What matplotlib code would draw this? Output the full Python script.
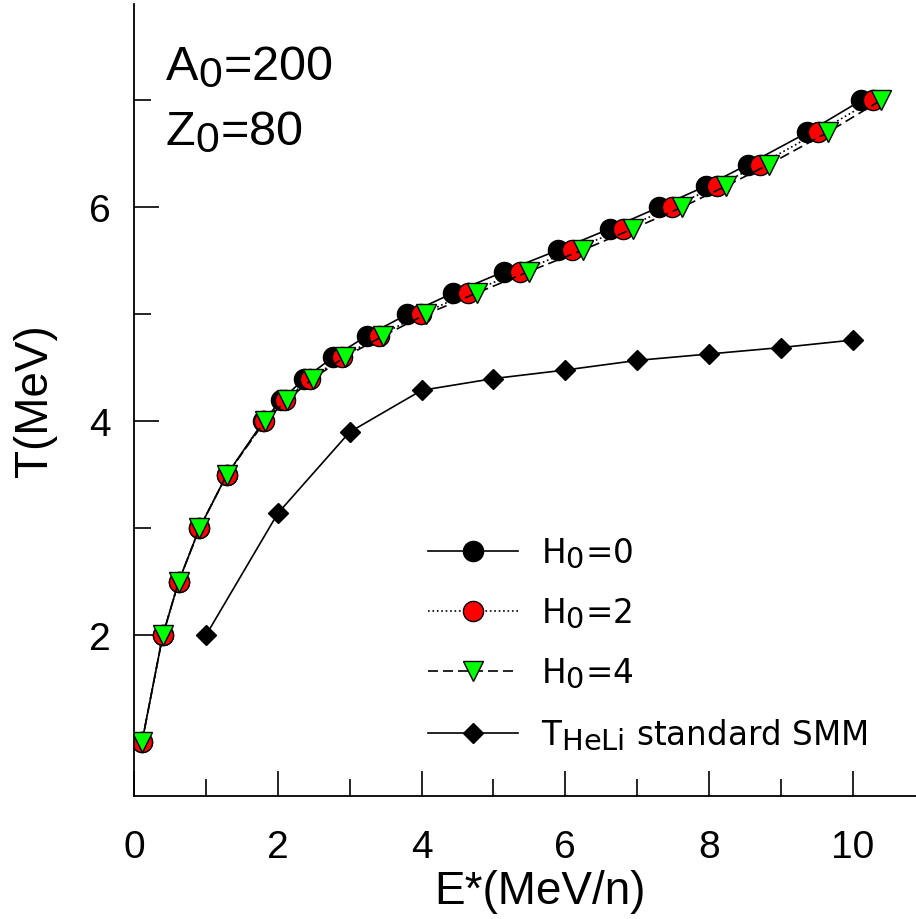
import numpy as np
import matplotlib
matplotlib.use("Agg")
import matplotlib.pyplot as plt
import matplotlib._mathtext as mathtext_internals
from matplotlib.ticker import MultipleLocator

plt.rcParams["font.family"] = ["Liberation Sans", "DejaVu Sans"]
plt.rcParams["mathtext.default"] = "regular"
# subscripts in the original are nearly full size
mathtext_internals.SHRINK_FACTOR = 0.88

# temperature values shared by the three H0 curves
T_curve = [1.0, 2.0, 2.5, 3.0, 3.5, 4.0, 4.2, 4.4, 4.6, 4.8,
           5.0, 5.2, 5.4, 5.6, 5.8, 6.0, 6.2, 6.4, 6.7, 7.0]
E_h0 = [0.11, 0.40, 0.62, 0.91, 1.29, 1.80, 2.05, 2.37, 2.77, 3.24,
        3.80, 4.44, 5.15, 5.90, 6.62, 7.30, 7.96, 8.54, 9.37, 10.12]
E_h2 = [0.11, 0.40, 0.62, 0.91, 1.29, 1.81, 2.10, 2.45, 2.90, 3.41,
        3.99, 4.65, 5.37, 6.10, 6.80, 7.48, 8.11, 8.71, 9.51, 10.28]
E_h4 = [0.11, 0.40, 0.62, 0.91, 1.29, 1.82, 2.13, 2.49, 2.93, 3.47,
        4.06, 4.77, 5.49, 6.24, 6.94, 7.62, 8.24, 8.83, 9.65, 10.39]

# standard SMM (T_HeLi)
E_smm = [1, 2, 3, 4, 5, 6, 7, 8, 9, 10]
T_smm = [2.0, 3.14, 3.9, 4.29, 4.4, 4.48, 4.57, 4.63, 4.69, 4.76]

fig = plt.figure(figsize=(9.16, 9.2), dpi=100)
ax = fig.add_axes([134 / 916, 123 / 920, 782 / 916, 792 / 920])

ms = 14.5
ax.plot(E_h0, T_curve, "-", color="black", lw=1.2, marker="o", ms=ms,
        mfc="black", mec="black", mew=1.0, label="H$_0$=0")
ax.plot(E_h2, T_curve, ":", color="black", lw=1.2, marker="o", ms=ms,
        mfc="red", mec="black", mew=1.0, label="H$_0$=2")
ax.plot(E_h4, T_curve, "--", color="black", lw=1.2, dashes=(6, 3), marker="v", ms=ms,
        mfc="#00ff00", mec="black", mew=1.0, label="H$_0$=4")
ax.plot(E_smm, T_smm, "-", color="black", lw=1.2, marker="D", ms=10.5,
        mfc="black", mec="black", label="T$_{HeLi}$ standard SMM")

ax.set_xlim(0, 10.88)
ax.set_ylim(0.5, 7.9)

ax.spines["top"].set_visible(False)
ax.spines["right"].set_visible(False)
ax.spines["left"].set_linewidth(1.3)
ax.spines["bottom"].set_linewidth(1.3)

ax.xaxis.set_major_locator(MultipleLocator(2))
ax.xaxis.set_minor_locator(MultipleLocator(1))
ax.yaxis.set_major_locator(MultipleLocator(2))
ax.yaxis.set_minor_locator(MultipleLocator(1))
ax.tick_params(which="both", direction="in", width=1.2, labelsize=28)
ax.tick_params(which="major", length=18)
ax.tick_params(which="minor", length=12)
ax.tick_params(axis="x", which="major", pad=24)
ax.tick_params(axis="y", which="major", pad=17)

ax.set_xlabel("E*(MeV/n)", fontsize=33)
ax.set_ylabel("T(MeV)", fontsize=33)
ax.xaxis.set_label_coords((540 - 134) / 782, (797 - 870) / 792)
ax.yaxis.set_label_coords((57 - 134) / 782, 0.5)

ax.text(0.04, 0.905, "A$_0$=200", transform=ax.transAxes, fontsize=35, va="baseline")
ax.text(0.04, 0.823, "Z$_0$=80", transform=ax.transAxes, fontsize=35, va="baseline")

leg = ax.legend(loc="lower left", bbox_to_anchor=(0.376, 0.056),
                prop={"family": "DejaVu Sans", "size": 23.5},
                frameon=False, handlelength=2.75, handletextpad=0.7,
                labelspacing=0.78, borderaxespad=0, borderpad=0)

fig.savefig("out.png", dpi=100)
